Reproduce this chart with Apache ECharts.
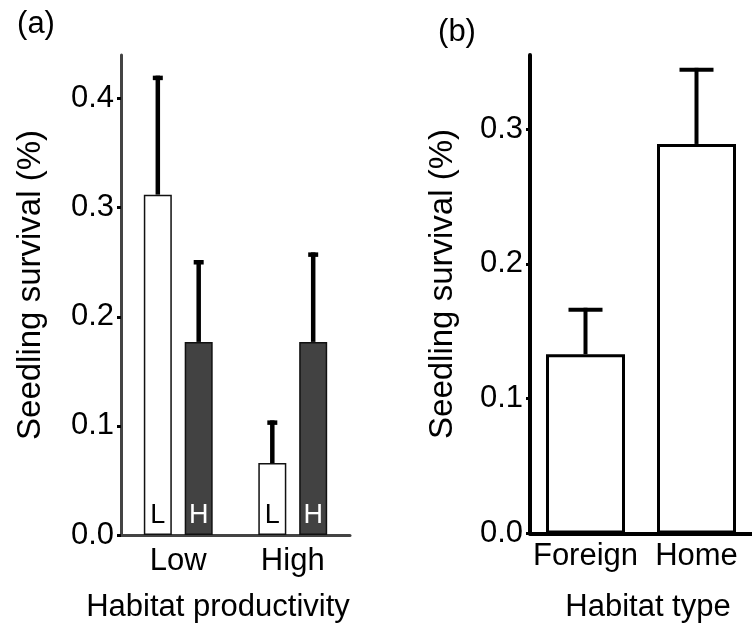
<!DOCTYPE html>
<html>
<head>
<meta charset="utf-8">
<script src="https://cdn.jsdelivr.net/npm/echarts@6/dist/echarts.min.js"></script>
<style>
  html, body { margin: 0; padding: 0; background: #fff; overflow: hidden; }
  #chart { width: 752px; height: 626px; }
</style>
</head>
<body>
<div id="chart"></div>
<script>
// Panel (a): seedling survival by habitat productivity, L and H seed sources
const productivityCategories = ['Low', 'High'];
const survivalL = [0.312, 0.066];
const survivalLUpper = [0.419, 0.103];
const survivalH = [0.177, 0.177];
const survivalHUpper = [0.250, 0.257];
const yTicksA = [0, 0.1, 0.2, 0.3, 0.4];

// Panel (b): seedling survival by habitat type
const habitatCategories = ['Foreign', 'Home'];
const survivalHabitat = [0.133, 0.289];
const survivalHabitatUpper = [0.166, 0.344];
const yTicksB = [0, 0.1, 0.2, 0.3];

const FONT = "'Liberation Sans', Arial, Helvetica, sans-serif";
const BAR_W_A = 28;
const BAR_GAP_A = 0.46;
const GROUP_OFFSET_A = BAR_W_A * (1 + BAR_GAP_A) / 2;

// Upward-only error bar with a top cap, drawn through the axis scales
function errorBar(offset, capWidth, lineWidth) {
  return function (params, api) {
    const cat = api.value(0);
    const base = api.coord([cat, api.value(1)]);
    const top = api.coord([cat, api.value(2)]);
    const x = base[0] + offset;
    const style = { stroke: '#000', lineWidth: lineWidth, lineCap: 'butt' };
    return {
      type: 'group',
      children: [
        { type: 'line', shape: { x1: x, y1: base[1], x2: x, y2: top[1] - lineWidth / 2 }, style: style },
        { type: 'line', shape: { x1: x - capWidth / 2, y1: top[1], x2: x + capWidth / 2, y2: top[1] }, style: style }
      ]
    };
  };
}

function errData(means, uppers) {
  return means.map((m, i) => [i, m, uppers[i]]);
}

const chart = echarts.init(document.getElementById('chart'), null, { renderer: 'canvas' });

const yLabel = { color: '#000', fontSize: 31, fontFamily: FONT, margin: 7,
  formatter: v => v.toFixed(1) };

chart.setOption({
  backgroundColor: '#fff',
  animation: false,
  textStyle: { fontFamily: FONT },
  grid: [
    { left: 121, top: 55, width: 229, height: 480, containLabel: false },
    { left: 530, top: 55, width: 227, height: 478.5, containLabel: false }
  ],
  xAxis: [
    {
      gridIndex: 0, type: 'category', data: productivityCategories,
      axisLine: { show: true, lineStyle: { color: '#444', width: 3 } },
      axisTick: { show: false },
      axisLabel: { color: '#000', fontSize: 31, fontFamily: FONT, margin: 11, interval: 0 },
      splitLine: { show: false }
    },
    {
      gridIndex: 1, type: 'category', data: habitatCategories,
      axisLine: { show: true, lineStyle: { color: '#000', width: 4 } },
      axisTick: { show: false },
      axisLabel: { color: '#000', fontSize: 31, fontFamily: FONT, margin: 7, interval: 0, hideOverlap: false },
      splitLine: { show: false }
    }
  ],
  yAxis: [
    {
      gridIndex: 0, type: 'value', min: 0, max: 0.44, interval: 0.1,
      axisLine: { show: true, lineStyle: { color: '#444', width: 3 } },
      axisTick: { show: true, length: 4, lineStyle: { color: '#000', width: 3 }, customValues: yTicksA },
      axisLabel: Object.assign({ customValues: yTicksA }, yLabel),
      splitLine: { show: false }
    },
    {
      gridIndex: 1, type: 'value', min: 0, max: 0.355, interval: 0.1,
      axisLine: { show: true, lineStyle: { color: '#000', width: 4 } },
      axisTick: { show: true, length: 4, lineStyle: { color: '#000', width: 3 }, customValues: yTicksB },
      axisLabel: Object.assign({ customValues: yTicksB }, yLabel),
      splitLine: { show: false }
    }
  ],
  series: [
    {
      name: 'L', type: 'bar', xAxisIndex: 0, yAxisIndex: 0, data: survivalL,
      barWidth: BAR_W_A, barGap: (BAR_GAP_A * 100) + '%',
      itemStyle: { color: '#fff', borderColor: '#111', borderWidth: 1.5 },
      label: { show: true, position: 'insideBottom', distance: 6, formatter: '{a}',
        color: '#000', fontSize: 27, fontFamily: FONT },
      z: 2
    },
    {
      name: 'H', type: 'bar', xAxisIndex: 0, yAxisIndex: 0, data: survivalH,
      barWidth: BAR_W_A,
      itemStyle: { color: '#424242', borderColor: '#111', borderWidth: 1.5 },
      label: { show: true, position: 'insideBottom', distance: 6, formatter: '{a}',
        color: '#fff', fontSize: 27, fontFamily: FONT },
      z: 2
    },
    {
      type: 'custom', xAxisIndex: 0, yAxisIndex: 0,
      renderItem: errorBar(-GROUP_OFFSET_A, 10, 4.5),
      data: errData(survivalL, survivalLUpper), z: 3, silent: true
    },
    {
      type: 'custom', xAxisIndex: 0, yAxisIndex: 0,
      renderItem: errorBar(GROUP_OFFSET_A, 10, 4.5),
      data: errData(survivalH, survivalHUpper), z: 3, silent: true
    },
    {
      name: 'Habitat', type: 'bar', xAxisIndex: 1, yAxisIndex: 1, data: survivalHabitat,
      barWidth: 79,
      itemStyle: { color: '#fff', borderColor: '#000', borderWidth: 3 },
      z: 2
    },
    {
      type: 'custom', xAxisIndex: 1, yAxisIndex: 1,
      renderItem: errorBar(0, 34, 4),
      data: errData(survivalHabitat, survivalHabitatUpper), z: 3, silent: true
    }
  ],
  graphic: [
    { type: 'text', x: 36, y: 24, style: { text: '(a)', font: '31px ' + FONT, fill: '#000', align: 'center', verticalAlign: 'middle' } },
    { type: 'text', x: 457, y: 32, style: { text: '(b)', font: '31px ' + FONT, fill: '#000', align: 'center', verticalAlign: 'middle' } },
    { type: 'text', x: 31, y: 285, rotation: Math.PI / 2,
      style: { text: 'Seedling survival (%)', font: '33px ' + FONT, fill: '#000', align: 'center', verticalAlign: 'middle' } },
    { type: 'text', x: 443, y: 284, rotation: Math.PI / 2,
      style: { text: 'Seedling survival (%)', font: '33px ' + FONT, fill: '#000', align: 'center', verticalAlign: 'middle' } },
    { type: 'text', x: 218, y: 607,
      style: { text: 'Habitat productivity', font: '31px ' + FONT, fill: '#000', align: 'center', verticalAlign: 'middle' } },
    { type: 'text', x: 648, y: 607,
      style: { text: 'Habitat type', font: '31px ' + FONT, fill: '#000', align: 'center', verticalAlign: 'middle' } }
  ]
});
</script>
</body>
</html>
